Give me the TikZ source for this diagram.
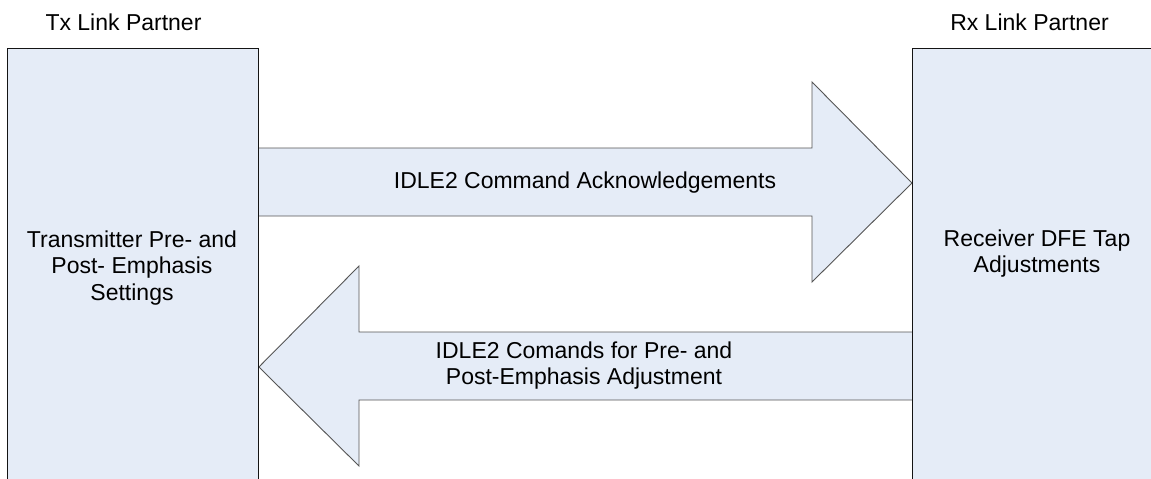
\documentclass[tikz,border=0pt]{standalone}
\usepackage{fontspec}
\setmainfont{Liberation Sans}
\definecolor{boxfill}{RGB}{229,236,247}
\definecolor{arrline}{RGB}{85,85,85}
\definecolor{boxline}{RGB}{20,20,20}
\begin{document}
\begin{tikzpicture}[x=1pt,y=-1pt,
  partner/.style={draw=boxline,fill=boxfill,line width=0.9pt,inner sep=0pt,minimum width=251pt,minimum height=450pt,anchor=north west},
  blockarrow/.style={draw=arrline,fill=boxfill,line width=0.9pt,line join=miter},
  lbl/.style={inner sep=0pt,font=\fontsize{23}{26.5}\selectfont,text=black},
  mlbl/.style={lbl,align=center}]
\useasboundingbox (0,0) rectangle (1151,479);
\clip (0,0) rectangle (1151,479);
% link partner boxes
\node[partner] (tx) at (7,48) {};
\node[partner] (rx) at (912,48) {};
% upper arrow: Tx -> Rx
\coordinate (a1s) at (258,148);
\draw[blockarrow] (tx.east |- a1s) -- (812,148) -- (812,82) -- (rx.west |- 0,183) -- (812,282) -- (812,216) -- (tx.east |- 0,216);
% lower arrow: Rx -> Tx
\draw[blockarrow] (rx.west |- 0,332) -- (359,332) -- (359,266) -- (tx.east |- 0,367) -- (359,466) -- (359,400) -- (rx.west |- 0,400);
% redraw box edges over arrow ends
\draw[draw=boxline,line width=0.9pt] (tx.north east) -- (tx.south east);
\draw[draw=boxline,line width=0.9pt] (rx.north west) -- (rx.south west);
% titles
\node[lbl,anchor=base] (txt) at (123.5,30) {Tx Link Partner};
\node[lbl,anchor=base] (rxt) at (1029.5,30) {Rx Link Partner};
% box texts
\node[mlbl,anchor=north] (txl) at (132,230.5) {Transmitter Pre- and\\Post- Emphasis\\Settings};
\node[mlbl,anchor=north] (rxl) at (1037,229.5) {Receiver DFE Tap\\Adjustments};
% arrow texts
\node[lbl,anchor=base] (ack) at (585,188) {IDLE2 Command Acknowledgements};
\node[mlbl,anchor=north] (cmd) at (584,341.5) {IDLE2 Comands for Pre- and\\Post-Emphasis Adjustment};
\end{tikzpicture}
\end{document}
